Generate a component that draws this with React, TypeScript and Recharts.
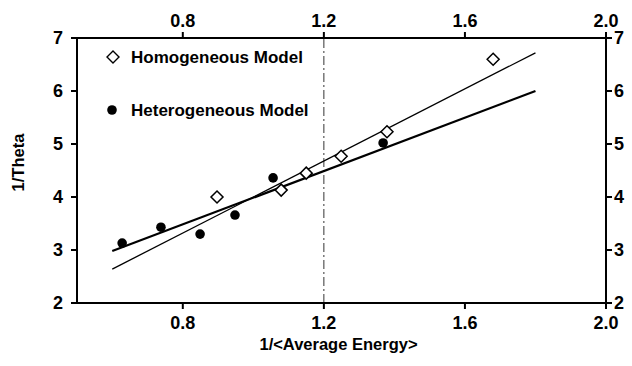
import { ComposedChart, XAxis, YAxis, Scatter, Line, ReferenceLine, Legend } from "recharts";

const homX = [0.897, 1.079, 1.15, 1.249, 1.379, 1.68];
const homY = [4.0, 4.13, 4.45, 4.77, 5.23, 6.6];
const hetX = [0.628, 0.738, 0.849, 0.948, 1.056, 1.368];
const hetY = [3.13, 3.43, 3.3, 3.66, 4.36, 5.02];
const homFitX = [0.6, 1.8];
const homFitY = [2.64, 6.72];
const hetFitX = [0.6, 1.8];
const hetFitY = [2.98, 6.0];
const xTicks = [0.8, 1.2, 1.6, 2.0];
const yTicks = [2, 3, 4, 5, 6, 7];

const homData = homX.map((x, i) => ({ x, y: homY[i] }));
const hetData = hetX.map((x, i) => ({ x, y: hetY[i] }));
const homFit = homFitX.map((x, i) => ({ x, y: homFitY[i] }));
const hetFit = hetFitX.map((x, i) => ({ x, y: hetFitY[i] }));

const FONT = "'Liberation Sans', Arial, sans-serif";
const tickStyle = { fontFamily: FONT, fontSize: 18, fontWeight: 700, fill: "#000" };
const titleStyle = { fontFamily: FONT, fontSize: 16.5, fontWeight: 700, fill: "#000" };

const Diamond = (p: any) => {
  const { cx, cy } = p;
  const r = 6;
  return (
    <polygon
      points={`${cx},${cy - r} ${cx + r},${cy} ${cx},${cy + r} ${cx - r},${cy}`}
      fill="#fff"
      stroke="#000"
      strokeWidth={1.5}
    />
  );
};

const Dot = (p: any) => <circle cx={p.cx} cy={p.cy} r={4.8} fill="#000" />;

function LegendBox() {
  const text = { fontFamily: FONT, fontSize: 17, fontWeight: 700, fill: "#000" };
  return (
    <svg width={240} height={80}>
      <polygon points="13,7 19,13 13,19 7,13" fill="#fff" stroke="#000" strokeWidth={1.4} />
      <text x={31} y={19} style={text}>Homogeneous Model</text>
      <circle cx={12} cy={66} r={4.8} fill="#000" />
      <text x={31} y={72} style={text}>Heterogeneous Model</text>
    </svg>
  );
}

export default function App() {
  return (
    <div style={{ position: "absolute", left: 0, top: 0, background: "#fff" }}>
      <ComposedChart width={632} height={366} margin={{ top: 0, right: 0, bottom: 0, left: 0 }}>
        <XAxis
          xAxisId="b"
          dataKey="x"
          type="number"
          domain={[0.5, 2.0]}
          ticks={xTicks}
          tickFormatter={(v: number) => v.toFixed(1)}
          height={63}
          tick={tickStyle}
          tickSize={6}
          tickMargin={7}
          axisLine={{ stroke: "#000", strokeWidth: 2 }}
          tickLine={{ stroke: "#000", strokeWidth: 2 }}
          allowDataOverflow
          label={{ value: "1/<Average Energy>", position: "insideBottom", offset: 16, dx: -3, fill: "#000", style: titleStyle }}
        />
        <XAxis
          xAxisId="t"
          orientation="top"
          dataKey="x"
          type="number"
          domain={[0.5, 2.0]}
          ticks={xTicks}
          tickFormatter={(v: number) => v.toFixed(1)}
          height={38}
          tick={tickStyle}
          tickSize={6}
          tickMargin={5}
          axisLine={{ stroke: "#000", strokeWidth: 2 }}
          tickLine={{ stroke: "#000", strokeWidth: 2 }}
          allowDataOverflow
        />
        <YAxis
          yAxisId="l"
          dataKey="y"
          type="number"
          domain={[2, 7]}
          ticks={yTicks}
          width={77}
          tick={tickStyle}
          tickSize={6}
          tickMargin={8}
          axisLine={{ stroke: "#000", strokeWidth: 2 }}
          tickLine={{ stroke: "#000", strokeWidth: 2 }}
          allowDataOverflow
          label={{ value: "1/Theta", angle: -90, position: "insideLeft", offset: 18, dy: -8, fill: "#000", style: { ...titleStyle, textAnchor: "middle" } }}
        />
        <YAxis
          yAxisId="r"
          orientation="right"
          dataKey="y"
          type="number"
          domain={[2, 7]}
          ticks={yTicks}
          width={26}
          tick={tickStyle}
          tickSize={6}
          tickMargin={2}
          axisLine={{ stroke: "#000", strokeWidth: 2 }}
          tickLine={{ stroke: "#000", strokeWidth: 2 }}
          allowDataOverflow
        />
        <ReferenceLine xAxisId="b" yAxisId="l" x={1.2} stroke="#000" strokeWidth={1} strokeDasharray="9 3 2 3" strokeOpacity={0.8} />
        <Line xAxisId="b" yAxisId="l" data={homFit} dataKey="y" stroke="#000" strokeWidth={1.3} dot={false} isAnimationActive={false} />
        <Line xAxisId="b" yAxisId="l" data={hetFit} dataKey="y" stroke="#000" strokeWidth={2.2} dot={false} isAnimationActive={false} />
        <Scatter xAxisId="b" yAxisId="l" data={homData} dataKey="y" shape={Diamond} isAnimationActive={false} />
        <Scatter xAxisId="b" yAxisId="l" data={hetData} dataKey="y" shape={Dot} isAnimationActive={false} />
        <Scatter xAxisId="t" yAxisId="r" data={homData} dataKey="y" shape={() => <g />} isAnimationActive={false} />
        <Legend
          layout="horizontal"
          verticalAlign="middle"
          align="center"
          content={() => <LegendBox />}
          wrapperStyle={{ left: 100, top: 44, width: 240, height: 80 }}
        />
      </ComposedChart>
    </div>
  );
}
